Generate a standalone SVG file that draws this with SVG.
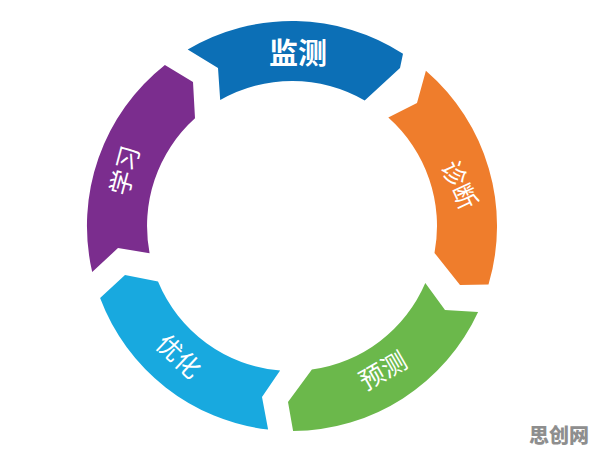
<svg xmlns="http://www.w3.org/2000/svg" width="596" height="455" viewBox="0 0 596 455">
<style>
.lbl{fill:#ffffff;font-family:"Noto Sans CJK SC","Noto Sans",sans-serif;text-anchor:middle;dominant-baseline:central;}
.wm{fill:#8e8e8e;font-family:"Noto Sans CJK SC",sans-serif;font-weight:900;text-anchor:middle;}
</style>
<rect width="596" height="455" fill="#ffffff"/>
<g id="node-jiance">
<path d="M187.7,49.6 A205,205 0 0 1 403,53.7 L400,68 L364.7,100.5 A145,145 0 0 0 220.2,100.1 L218,68 Z" fill="#0c6fb6"/>
<text class="lbl" x="298" y="51" font-size="29" font-weight="bold">监测</text>
</g>
<g id="node-zhenduan">
<path d="M425.9,70.8 A205,205 0 0 1 488.5,284.6 L460,285 L434.5,252.9 A145,145 0 0 0 388.3,117.6 L417,103 Z" fill="#ef7d2c"/>
<text class="lbl" x="461" y="184" font-size="25" transform="rotate(65 461 184)">诊断</text>
</g>
<g id="node-yuce">
<path d="M478.1,312 A205,205 0 0 1 293.1,431 L288,402 L311.9,369.6 A145,145 0 0 0 425.3,283.1 L445,310 Z" fill="#6bb84b"/>
<text class="lbl" x="382" y="369" font-size="25" transform="rotate(-30 382 369)">预测</text>
</g>
<g id="node-youhua">
<path d="M268.1,429.6 A205,205 0 0 1 100.1,298.1 L125,275 L158,281.5 A145,145 0 0 0 280.1,370.5 L262,397 Z" fill="#18a9df"/>
<text class="lbl" x="180" y="355" font-size="25" transform="rotate(43 180 355)">优化</text>
</g>
<g id="node-xuexi">
<path d="M92.2,272.1 A205,205 0 0 1 164.9,65.1 L193,82 L195,118.3 A145,145 0 0 0 149.6,253.2 L118,248 Z" fill="#7b2d8e"/>
<text class="lbl" x="123" y="170" font-size="25" transform="rotate(-75 123 170)">学习</text>
</g>
<g id="connectors"></g>
<text class="wm" x="559" y="443" font-size="20">思创网</text>
</svg>
